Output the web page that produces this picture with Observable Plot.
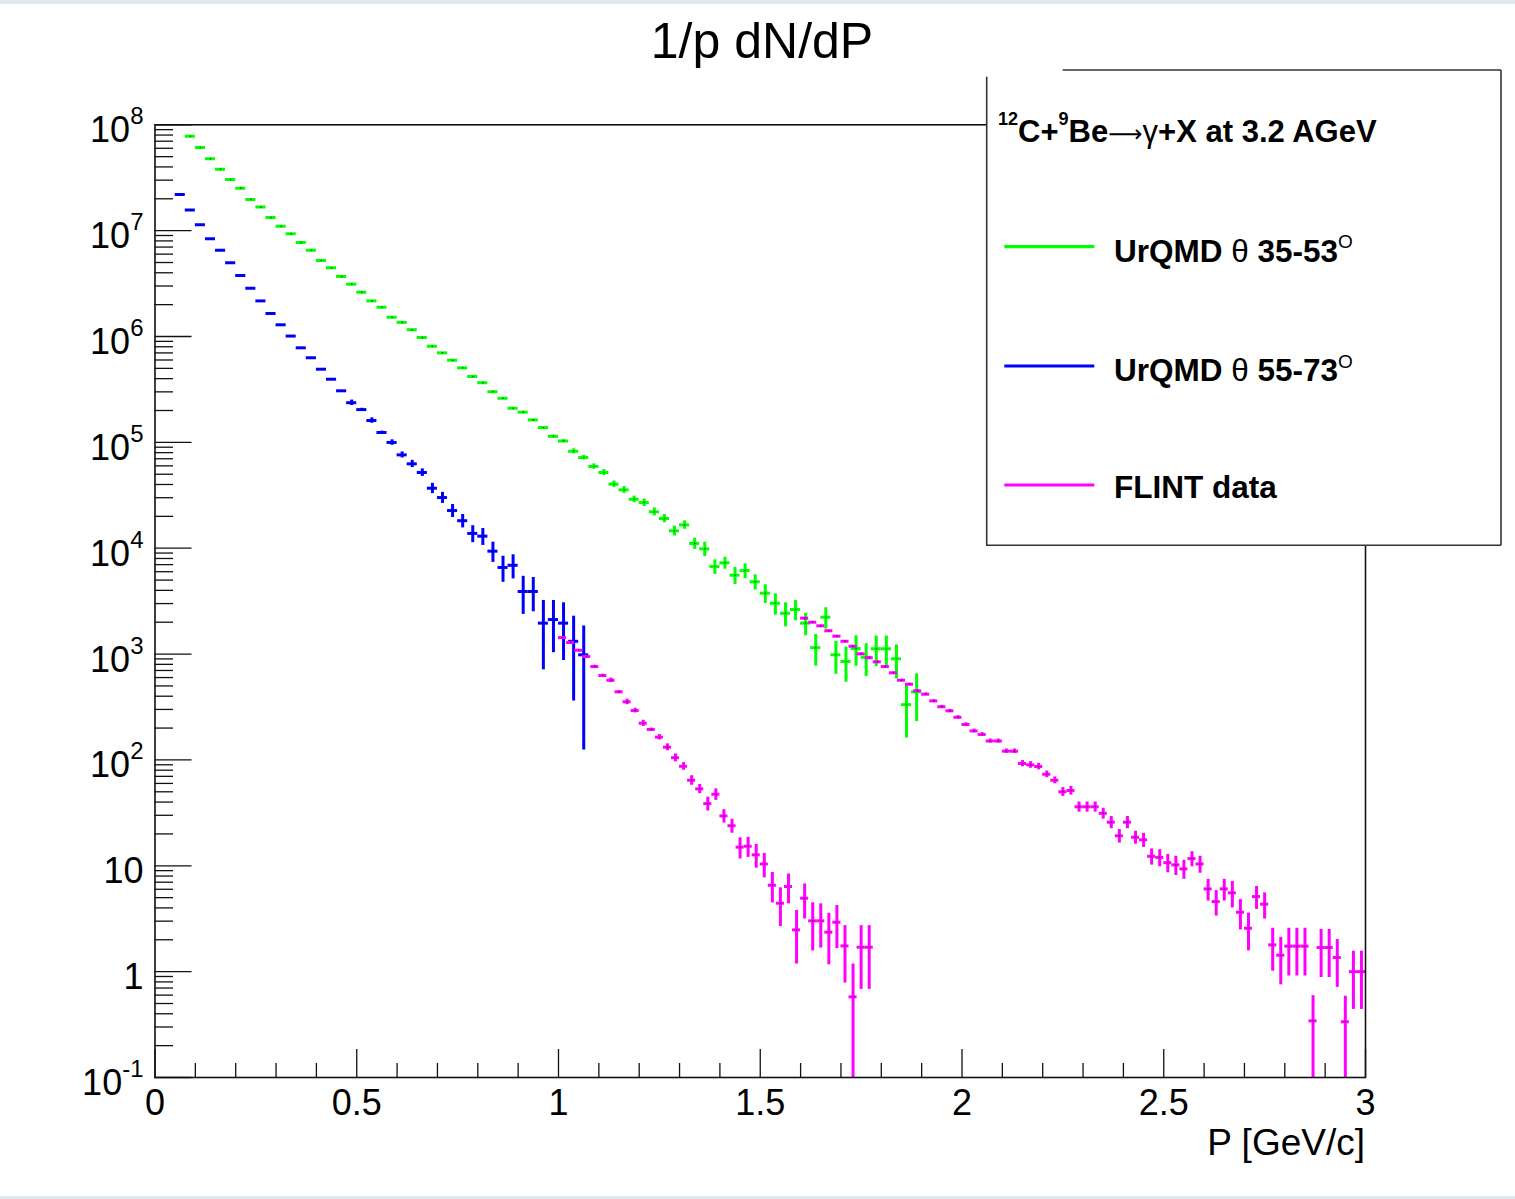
<!DOCTYPE html>
<html><head><meta charset="utf-8">
<script src="https://cdn.jsdelivr.net/npm/d3@7"></script>
<script src="https://cdn.jsdelivr.net/npm/@observablehq/plot@0.6"></script>
<style>
html,body{margin:0;padding:0;background:#fff;}
#wrap{position:relative;width:1515px;height:1199px;overflow:hidden;background:#fff;}
#topband{position:absolute;left:0;top:0;width:1515px;height:4px;background:#e2e8ef;}
#botband{position:absolute;left:0;top:1196px;width:1515px;height:3px;background:#e2e8ef;}
</style></head><body><div id="wrap"><div id="topband"></div><div id="botband"></div></div>
<script>
const FONT = "'Liberation Sans', Arial, Helvetica, sans-serif";

// ---------- data ----------
// UrQMD theta 35-53 deg : histogram bins 0.025 GeV/c wide, first centre 0.0875
const urqmdBin = 0.025;
const greenX0 = 0.0875;
const greenVal = [7.80e7,6.11e7,4.78e7,3.81e7,3.04e7,2.52e7,1.97e7,1.67e7,1.33e7,1.10e7,
  9.33e6,7.73e6,6.53e6,5.22e6,4.46e6,3.69e6,3.12e6,2.62e6,2.17e6,1.89e6,
  1.52e6,1.36e6,1.16e6,9.79e5,8.09e5,7.01e5,5.97e5,5.06e5,4.19e5,3.66e5,
  3.01e5,2.61e5,2.10e5,1.93e5,1.63e5,1.38e5,1.14e5,1.03e5,8.24e4,7.19e4,
  5.92e4,5.19e4,4.03e4,3.56e4,2.90e4,2.70e4,2.21e4,1.91e4,1.46e4,1.66e4,
  1.11e4,9.86e3,6.71e3,7.28e3,5.56e3,6.15e3,4.82e3,3.76e3,3.02e3,2.43e3,
  2.64e3,1.96e3,1.15e3,2.23e3,984,851,1127,933,1122,1122,902,333,440];
const greenErr = [0,0,0,0,0,0,0,0,0,0,
  0,0,0,0,0,0,0,0,0,0,
  0,0,0,0,0,0,0,0,0,0,
  3000,2600,2100,2000,1800,1600,3000,3000,4500,3600,
  3500,3500,2850,2650,2050,2200,1900,1700,1550,1520,
  1350,1540,1050,940,1020,980,790,750,690,620,
  570,470,380,510,340,310,360,320,360,360,320,172,210];

// UrQMD theta 55-73 deg : same binning, first centre 0.0625
const blueX0 = 0.0625;
const blueVal = [2.20e7,1.57e7,1.14e7,8.37e6,6.53e6,4.97e6,3.77e6,2.86e6,2.17e6,1.65e6,
  1.29e6,1.01e6,7.82e5,6.30e5,4.91e5,3.95e5,3.07e5,2.37e5,2.04e5,1.61e5,
  1.24e5,9.98e4,7.62e4,6.27e4,5.19e4,3.69e4,3.01e4,2.27e4,1.82e4,1.38e4,
  1.30e4,9.38e3,6.58e3,6.90e3,3.90e3,3.90e3,1.96e3,2.12e3,1.96e3,1.32e3,984];
const blueErr = [0,0,0,0,0,0,0,0,0,0,
  0,0,0,0,0,0,0,14000,6000,9600,
  3700,6000,5000,4900,4300,4100,3600,3180,2640,2520,
  2370,2030,1820,1770,1530,1390,1250,1090,1090,960,860];

// FLINT data : bins 0.02 GeV/c wide
const flintBin = 0.02;
const flint1X0 = 1.01;
const flint1Val = [1432,1285,1086,948,762,627,566,440,354,293,
  222,194,164,132,105,87.1,64.3,53.3,38.7,47.4,
  29.6,23.9,15.0,15.3,12.7,10.4,6.55,4.43,6.37,2.48,
  4.94,3.02,3.02,2.36,2.93,1.75,0.578,1.70,1.70];
const flint1Err = [29,26,22,19,23,19,28,13,21,15,
  15,6,9.8,9.9,9.0,7.2,6.7,5.3,5.8,5.9,
  4.3,3.6,3.4,3.3,3.2,2.7,2.1,1.76,2.0,1.3,
  1.8,1.45,1.35,1.2,1.28,0.97,0.6,1.02,1.02];
const flint2X0 = 1.61;
const flint2Val = [2183,2000,1849,1660,1476,1321,1186,1005,923,845,
  762,665,566,519,450,418,361,318,291,253,
  216,188,174,151,151,121,121,92.5,89.9,86.7,
  73.3,64.3,50.0,51.4,36.1,36.1,36.1,31.3,25.8,19.2,
  25.8,18.6,17.6,12.3,12.0,10.7,10.2,9.35,11.7,10.4,
  6.05,4.59,6.05,5.55,3.64,2.57,5.12,4.34,1.79,1.43,
  1.74,1.74,1.74,0.343,1.69,1.69,1.36,0.336,1.00,1.00];
const flint2Err = [30,28,26,24,22,20,19,17,16,15,
  14,13,12,12,11,11,10,9.5,9,8.5,
  8,7.5,7,6.5,6.5,6,6,6.2,6.5,6.2,
  5.3,4.8,4.8,4.9,4.0,4.0,4.0,3.7,3.4,2.8,
  3.4,2.6,2.7,2.15,2.2,2.1,2.1,1.9,1.9,1.9,
  1.4,1.24,1.4,1.55,1.16,1.0,1.25,1.2,0.78,0.68,
  0.83,0.83,0.83,0.25,0.81,0.81,0.65,0.25,0.56,0.56];

// axes
const yTickValues = [1e-1,1,10,1e2,1e3,1e4,1e5,1e6,1e7,1e8];
const yTickLabels = ["10^-1","1","10","10^2","10^3","10^4","10^5","10^6","10^7","10^8"];
const xTickValues = [0,0.5,1,1.5,2,2.5,3];
const xTickLabels = ["0","0.5","1","1.5","2","2.5","3"];

const colors = {green:"#00ff00", blue:"#0000ff", magenta:"#ff00ff"};

// ---------- build ----------
function rows(x0, w, vals, errs){
  return vals.map((v,i)=>({x: x0 + i*w, w, v, e: errs[i]}));
}
const green = rows(greenX0, urqmdBin, greenVal, greenErr);
const blue = rows(blueX0, urqmdBin, blueVal, blueErr);
const flint1 = rows(flint1X0, flintBin, flint1Val, flint1Err);
const flint2 = rows(flint2X0, flintBin, flint2Val, flint2Err);

const yMinor = [];
for (let k=-1;k<8;k++) for (let m=2;m<10;m++) yMinor.push(m*Math.pow(10,k));
const xMinor = [];
for (let i=1;i<30;i++) if (i%5) xMinor.push(i/10);

const W=1515, H=1199, mL=154.5, mR=150, mT=124.3, mB=122;
const fW = W-mL-mR, fH = H-mT-mB;

function series(data, c){
  return [
    Plot.ruleX(data.filter(d=>d.e>0), {x:"x", y1:d=>Math.max(d.v-d.e,1e-4), y2:d=>d.v+d.e, stroke:c, strokeWidth:3, clip:true}),
    Plot.ruleY(data, {y:"v", x1:d=>d.x-d.w/2, x2:d=>d.x+d.w/2, stroke:c, strokeWidth:3, clip:true}),
    Plot.dot(data, {x:"x", y:"v", r:0.8, fill:"#000", fillOpacity:0.6, stroke:null, clip:true})
  ];
}

const chart = Plot.plot({
  width: W, height: H,
  marginLeft: mL, marginRight: mR, marginTop: mT, marginBottom: mB,
  style: {fontFamily: FONT, background: "transparent", overflow: "visible", color:"#000"},
  x: {domain:[0,3]},
  y: {type:"log", domain:[0.1,1e8]},
  marks: [
    Plot.tickY(yTickValues, {y:d=>d, insetRight: fW-37, stroke:"#111", strokeWidth:1.3}),
    Plot.tickY(yMinor, {y:d=>d, insetRight: fW-18.5, stroke:"#111", strokeWidth:1.3}),
    Plot.tickX(xTickValues, {x:d=>d, insetTop: fH-28, stroke:"#111", strokeWidth:1.3}),
    Plot.tickX(xMinor, {x:d=>d, insetTop: fH-14, stroke:"#111", strokeWidth:1.3}),
    ...series(green, colors.green),
    ...series(blue, colors.blue),
    ...series(flint1, colors.magenta),
    ...series(flint2, colors.magenta),
    Plot.frame({stroke:"#111", strokeWidth:1.6}),
    Plot.axisY({ticks: yTickValues, tickSize:0, tickPadding:11.5, label:null, fontSize:36, dy:6,
      tickFormat: d => yTickLabels[yTickValues.indexOf(d)]}),
    Plot.axisX({ticks: xTickValues, tickSize:0, tickPadding:12, label:null, fontSize:36,
      tickFormat: d => xTickLabels[xTickValues.indexOf(d)]})
  ]
});
chart.style.position = "absolute";
chart.style.left = "0px";
chart.style.top = "0px";
document.getElementById("wrap").appendChild(chart);

const svg = d3.select(chart);
// superscripts in y tick labels
svg.selectAll('[aria-label="y-axis tick label"] text').each(function(){
  const s = this.textContent;
  if (s.includes("^")) {
    const [b,e] = s.split("^");
    const t = d3.select(this);
    t.text(null);
    t.append("tspan").text(b);
    t.append("tspan").attr("dy", -18).attr("font-size", 24).text(e);
  }
});

// title and axis title
svg.append("text").attr("x",762).attr("y",58).attr("text-anchor","middle")
  .attr("font-size",50).attr("font-family",FONT).attr("fill","#000").text("1/p dN/dP");
svg.append("text").attr("x",1365).attr("y",1155).attr("text-anchor","end")
  .attr("font-size",37).attr("font-family",FONT).attr("fill","#000").text("P [GeV/c]");

// legend
const lg = svg.append("g").attr("font-family",FONT).attr("fill","#000").attr("text-anchor","start");
lg.append("rect").attr("x",986).attr("y",70).attr("width",515).attr("height",475.5).attr("fill","#fff");
const bc = "#333", bw = 1.6;
[[1062.7,70,1501,70],[1501,70,1501,545.3],[986,545.3,1501,545.3],[986.7,76.7,986.7,545.3]].forEach(l=>{
  lg.append("line").attr("x1",l[0]).attr("y1",l[1]).attr("x2",l[2]).attr("y2",l[3]).attr("stroke",bc).attr("stroke-width",bw);
});
const hdr = lg.append("text").attr("x",998).attr("y",142).attr("font-size",31).attr("font-weight","bold").attr("text-anchor","start");
hdr.append("tspan").attr("font-size",18).attr("dy",-17).text("12");
hdr.append("tspan").attr("dy",17).text("C+");
hdr.append("tspan").attr("font-size",18).attr("dy",-17).text("9");
hdr.append("tspan").attr("dy",17).text("Be");
hdr.append("tspan").attr("font-weight","normal").attr("font-family","'DejaVu Sans', sans-serif").attr("font-size",24).text("\u27f6");
hdr.append("tspan").attr("font-weight","normal").text("\u03b3");
hdr.append("tspan").text("+X at 3.2 AGeV");

const entries = [
  {c: colors.green, y: 246.7, base: 261.7, txt: "UrQMD ", th: true, rng: " 35-53"},
  {c: colors.blue, y: 366, base: 381, txt: "UrQMD ", th: true, rng: " 55-73"},
  {c: colors.magenta, y: 485, base: 497.5, txt: "FLINT data", th: false}
];
entries.forEach(e=>{
  lg.append("line").attr("x1",1004.3).attr("x2",1094.3).attr("y1",e.y).attr("y2",e.y)
    .attr("stroke",e.c).attr("stroke-width",3.2);
  const t = lg.append("text").attr("x",1114).attr("y",e.base).attr("font-size",31.5).attr("font-weight","bold").attr("text-anchor","start");
  t.append("tspan").text(e.txt);
  if (e.th) {
    t.append("tspan").attr("font-weight","normal").text("\u03b8");
    t.append("tspan").text(e.rng);
    t.append("tspan").attr("font-size",19).attr("dy",-13.5).attr("font-weight","normal").text("O");
  }
});
</script></body></html>
